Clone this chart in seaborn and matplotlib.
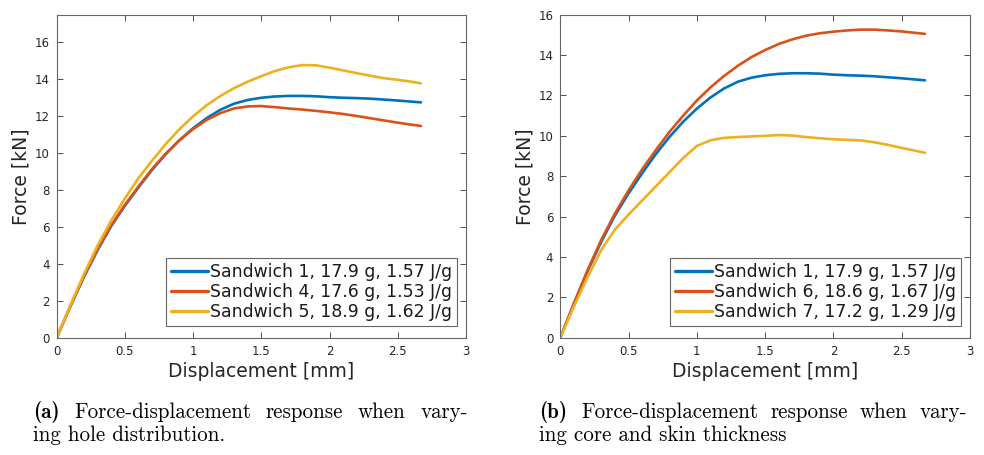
import matplotlib
matplotlib.use("Agg")
import matplotlib.pyplot as plt
import seaborn as sns
import pandas as pd

# Displacement samples [mm]
disp = [0.0, 0.1, 0.2, 0.3, 0.4, 0.5, 0.6, 0.7, 0.8, 0.9, 1.0, 1.1, 1.2, 1.3,
        1.4, 1.5, 1.6, 1.7, 1.8, 1.9, 2.0, 2.1, 2.2, 2.3, 2.4, 2.5, 2.6, 2.67]

# Force [kN] per sandwich
sandwich_1 = [0.0, 1.7, 3.3, 4.75, 6.05, 7.15, 8.15, 9.1, 9.95, 10.7, 11.35, 11.9, 12.35, 12.68,
              12.88, 13.0, 13.07, 13.1, 13.1, 13.08, 13.03, 13.0, 12.98, 12.95, 12.9, 12.85, 12.79, 12.75]
sandwich_4 = [0.0, 1.7, 3.35, 4.8, 6.1, 7.2, 8.2, 9.15, 9.98, 10.7, 11.3, 11.8, 12.17, 12.42,
              12.53, 12.55, 12.49, 12.42, 12.36, 12.29, 12.21, 12.12, 12.01, 11.89, 11.77, 11.65, 11.54, 11.47]
sandwich_5 = [0.0, 1.75, 3.45, 5.0, 6.35, 7.55, 8.65, 9.6, 10.5, 11.3, 12.0, 12.6, 13.1, 13.52,
              13.87, 14.17, 14.45, 14.65, 14.77, 14.76, 14.63, 14.48, 14.33, 14.19, 14.06, 13.97, 13.87, 13.78]
sandwich_6 = [0.0, 1.7, 3.35, 4.85, 6.15, 7.3, 8.35, 9.3, 10.2, 11.0, 11.75, 12.4, 12.97, 13.47,
              13.9, 14.25, 14.55, 14.78, 14.96, 15.08, 15.16, 15.22, 15.26, 15.26, 15.22, 15.17, 15.1, 15.05]
sandwich_7 = [0.0, 1.55, 3.0, 4.35, 5.35, 6.1, 6.8, 7.5, 8.2, 8.9, 9.5, 9.78, 9.9, 9.94,
              9.97, 10.0, 10.04, 10.01, 9.94, 9.88, 9.83, 9.8, 9.77, 9.68, 9.55, 9.4, 9.26, 9.16]

labels_a = ["Sandwich 1, 17.9 g, 1.57 J/g", "Sandwich 4, 17.6 g, 1.53 J/g", "Sandwich 5, 18.9 g, 1.62 J/g"]
labels_b = ["Sandwich 1, 17.9 g, 1.57 J/g", "Sandwich 6, 18.6 g, 1.67 J/g", "Sandwich 7, 17.2 g, 1.29 J/g"]

caption_a = ["Force-displacement response when vary-", "ing hole distribution."]
caption_b = ["Force-displacement response when vary-", "ing core and skin thickness"]

x_ticks = [0, 0.5, 1, 1.5, 2, 2.5, 3]
x_tick_labels = ["0", "0.5", "1", "1.5", "2", "2.5", "3"]
y_ticks = [0, 2, 4, 6, 8, 10, 12, 14, 16]

colors = ["#0072BD", "#D95319", "#EDB120"]

sns.set_theme(style="white")
plt.rcParams["font.family"] = ["DejaVu Sans"]

W, H = 984, 455
fig = plt.figure(figsize=(W / 100, H / 100), dpi=100)
renderer = fig.canvas.get_renderer()


def frac_box(x0, y0, x1, y1):
    return [x0 / W, 1 - y1 / H, (x1 - x0) / W, (y1 - y0) / H]


def make_df(series, labels):
    rows = []
    for vals, lab in zip(series, labels):
        for d, f in zip(disp, vals):
            rows.append({"Displacement": d, "Force": f, "Specimen": lab})
    return pd.DataFrame(rows)


def panel(box, series, labels, ylim, legend_xy):
    ax = fig.add_axes(frac_box(*box))
    df = make_df(series, labels)
    sns.lineplot(data=df, x="Displacement", y="Force", hue="Specimen",
                 palette=colors, linewidth=1.9, sort=False, estimator=None,
                 ax=ax, legend=True)
    ax.set_xlim(0, 3)
    ax.set_ylim(*ylim)
    ax.set_xticks(x_ticks)
    ax.set_xticklabels(x_tick_labels)
    ax.set_yticks(y_ticks)
    ax.tick_params(direction="in", length=4, width=0.7, color="#4d4d4d",
                   top=True, right=True, bottom=True, left=True,
                   labelsize=8.5, labelcolor="#262626", pad=5)
    for s in ax.spines.values():
        s.set_color("#666666")
        s.set_linewidth(0.8)
    ax.set_xlabel("Displacement [mm]", fontsize=13.5, color="#262626", labelpad=3)
    ax.set_ylabel("Force [kN]", fontsize=13.5, color="#262626", labelpad=3)
    handles, labs = ax.get_legend_handles_labels()
    leg = ax.legend(handles, labs, loc="upper left",
                    bbox_to_anchor=(legend_xy[0] / W, 1 - legend_xy[1] / H),
                    bbox_transform=fig.transFigure, borderaxespad=0,
                    fontsize=12.4, frameon=True, fancybox=False, framealpha=1,
                    handlelength=2.15, handletextpad=0.12, labelspacing=0.13,
                    borderpad=0.28)
    leg.get_frame().set_edgecolor("#666666")
    leg.get_frame().set_linewidth(0.8)
    for line in leg.get_lines():
        line.set_linewidth(2.4)
    for t in leg.get_texts():
        t.set_color("#1a1a1a")
    return ax


panel((56.7, 14.7, 466, 337.7), [sandwich_1, sandwich_4, sandwich_5], labels_a, (0, 17.5), (166, 258))
panel((560.3, 14.7, 970, 337.7), [sandwich_1, sandwich_6, sandwich_7], labels_b, (0, 16), (670, 258))

CAP_SIZE = 15.1


def caption(x_tag, x_text, x_end, tag, lines, base1=418, base2=441):
    fig.text(x_tag / W, 1 - base1 / H, tag, family="cmb10", fontsize=CAP_SIZE,
             color="black", ha="left", va="baseline")
    # first line is justified between x_text and x_end
    words = lines[0].split(" ")
    texts = [fig.text(0, 1 - base1 / H, w, family="cmr10", fontsize=CAP_SIZE,
                      color="black", ha="left", va="baseline") for w in words]
    widths = [t.get_window_extent(renderer).width for t in texts]
    gap = (x_end - x_text - sum(widths)) / max(len(words) - 1, 1)
    x = x_text
    for t, w in zip(texts, widths):
        t.set_x(x / W)
        x += w + gap
    fig.text(x_tag / W, 1 - base2 / H, lines[1], family="cmr10", fontsize=CAP_SIZE,
             color="black", ha="left", va="baseline")


caption(33, 74, 468, "(a)", caption_a)
caption(539, 581, 967, "(b)", caption_b)

fig.savefig("out.png", dpi=100)
